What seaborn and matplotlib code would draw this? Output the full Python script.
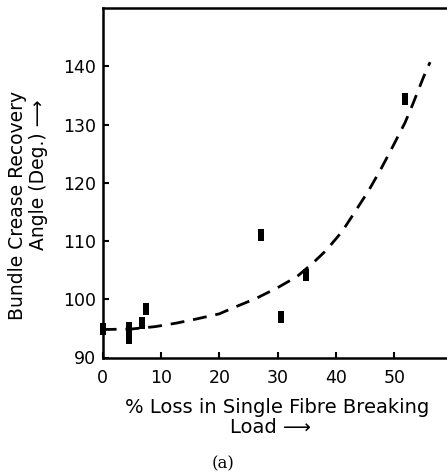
import numpy as np
import pandas as pd
import matplotlib
matplotlib.use("Agg")
import matplotlib.pyplot as plt
import seaborn as sns

# Measured data points
loss_pct = [0.0, 4.5, 4.5, 6.7, 7.5, 27.2, 30.6, 34.8, 51.8]
recovery_angle = [94.9, 93.3, 95.0, 95.9, 98.4, 111.1, 97.0, 104.2, 134.4]

# Dashed trend curve
curve_x = [0.0, 5.0, 9.0, 12.6, 16.0, 20.0, 22.3, 26.4, 30.0, 33.3, 35.9,
           38.3, 41.0, 42.9, 45.6, 47.7, 49.7, 51.8, 53.1, 55.0, 56.1]
curve_y = [94.8, 94.9, 95.3, 95.9, 96.6, 97.5, 98.5, 100.2, 102.0, 103.9, 106.1,
           108.4, 111.6, 114.5, 118.7, 122.4, 126.2, 130.3, 133.4, 138.2, 140.7]

x_ticks = [0, 10, 20, 30, 40, 50]
y_ticks = [90, 100, 110, 120, 130, 140]

xlabel_lines = ["% Loss in Single Fibre Breaking", "Load \u27f6"]
ylabel_lines = ["Bundle Crease Recovery", "Angle (Deg.) \u27f6"]
panel_label = "(a)"

sns.set_theme(style="white")
plt.rcParams["font.family"] = ["DejaVu Sans"]

W, H = 447, 475
fig = plt.figure(figsize=(W / 100, H / 100), dpi=100)
ax = fig.add_axes([102.7 / W, 1 - 357.5 / H, 1 - 102.7 / W, (357.5 - 8) / H])

df_pts = pd.DataFrame({"x": loss_pct, "y": recovery_angle})
df_curve = pd.DataFrame({"x": curve_x, "y": curve_y})

sns.lineplot(data=df_curve, x="x", y="y", ax=ax, color="black", lw=2.0,
             linestyle=(0, (5, 3.2)), sort=True, estimator=None)

rect = [(-0.28, -0.5), (0.28, -0.5), (0.28, 0.5), (-0.28, 0.5), (-0.28, -0.5)]
sns.scatterplot(data=df_pts, x="x", y="y", ax=ax, color="black", marker=rect,
                s=80, linewidth=0, zorder=5, clip_on=False)

ax.set_xlim(0, 59)
ax.set_ylim(90, 150)
ax.set_xticks(x_ticks)
ax.set_yticks(y_ticks)
ax.set_xticklabels([str(t) for t in x_ticks])
ax.set_yticklabels([str(t) for t in y_ticks])

for side in ["left", "top", "bottom"]:
    ax.spines[side].set_visible(True)
    ax.spines[side].set_color("black")
    ax.spines[side].set_linewidth(1.8)
ax.spines["right"].set_visible(False)

ax.tick_params(axis="x", direction="in", length=4, width=1.5, pad=8,
               labelsize=12.5, colors="black", bottom=True, top=False)
ax.tick_params(axis="y", direction="in", length=4, width=1.5, pad=5,
               labelsize=12.5, colors="black", left=True, right=False)

# x label (two lines, placed individually)
ax.set_xlabel(xlabel_lines[0], fontsize=14, color="black")
ax.xaxis.set_label_coords((277 - 102.7) / 344.3, (357.5 - 413) / 349.5)
ax.xaxis.label.set_va("baseline")
fig.text(270 / W, 1 - 433 / H, xlabel_lines[1], ha="center", va="baseline",
         fontsize=14, color="black")

# y label (two lines, placed individually)
ax.set_ylabel(ylabel_lines[0], fontsize=13.5, color="black")
ax.yaxis.set_label_coords((18 - 102.7) / 344.3, (357.5 - 205) / 349.5)
ax.yaxis.label.set_va("center")
fig.text(39 / W, 1 - 175 / H, ylabel_lines[1], ha="center", va="center",
         rotation=90, fontsize=13.5, color="black")

fig.text(0.5, 1 - 464 / H, panel_label, ha="center", va="center",
         fontsize=12, family="DejaVu Serif", color="black")

fig.savefig("out.png", dpi=100, facecolor="white")
